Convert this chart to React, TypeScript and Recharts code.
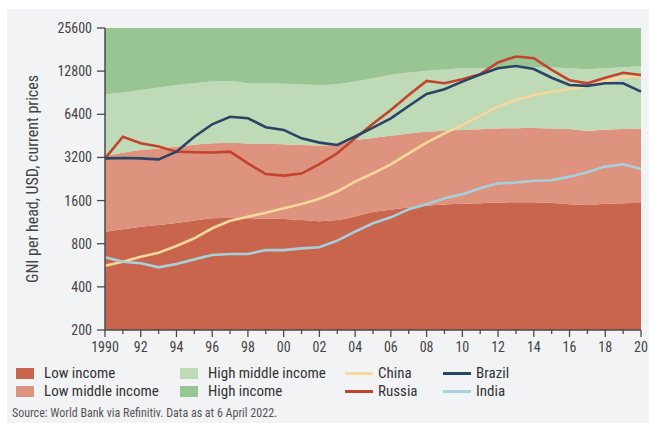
import { Area, ComposedChart, Line, XAxis, YAxis } from "recharts";

const years = [
	1990, 1991, 1992, 1993, 1994, 1995, 1996, 1997, 1998, 1999, 2000, 2001, 2002, 2003, 2004, 2005, 2006, 2007, 2008, 2009, 2010,
	2011, 2012, 2013, 2014, 2015, 2016, 2017, 2018, 2019, 2020,
];

// income band upper bounds (USD)
const lowIncomeTop = [
	970, 1010, 1050, 1080, 1115, 1160, 1205, 1210, 1205, 1195, 1190, 1170, 1150, 1170, 1240, 1330, 1380, 1430, 1470, 1500, 1520,
	1535, 1550, 1560, 1560, 1540, 1510, 1490, 1520, 1535, 1540,
];
const lowMiddleTop = [
	3290, 3450, 3600, 3700, 3800, 3920, 4020, 4030, 4010, 3980, 3950, 3900, 3870, 3950, 4230, 4380, 4530, 4700, 4840, 4920, 4980,
	5040, 5100, 5120, 5140, 5100, 5050, 4920, 5000, 5050, 5100,
];
const highMiddleTop = [
	8820, 9100, 9440, 9850, 10250, 10550, 10820, 10930, 10530, 10480, 10450, 10350, 10250, 10400, 10820, 11400, 12030, 12500, 12900,
	13150, 13400, 13450, 13500, 13600, 13700, 13550, 13400, 13200, 13400, 13600, 13900,
];
const highIncomeTop = 25600;
const axisFloor = 200;

const china = [
	562, 599, 650, 692, 771, 873, 1025, 1157, 1235, 1317, 1413, 1514, 1650, 1850, 2170, 2480, 2860, 3420, 4060, 4710, 5390, 6230,
	7240, 8060, 8720, 9200, 9560, 10100, 10930, 11600, 11860,
];
const brazil = [
	3150, 3170, 3150, 3100, 3510, 4460, 5450, 6150, 6000, 5200, 4980, 4350, 4060, 3910, 4480, 5170, 6000, 7310, 8870, 9560, 10820,
	12120, 13400, 13900, 13250, 11520, 10250, 10100, 10530, 10530, 9200,
];
const russia = [
	3150, 4460, 4020, 3810, 3510, 3480, 3460, 3510, 2910, 2450, 2390, 2470, 2870, 3420, 4350, 5490, 6860, 8720, 10930, 10530, 11220,
	12190, 14700, 16200, 15750, 13060, 11060, 10530, 11520, 12480, 12030,
];
const india = [
	643, 599, 584, 547, 578, 622, 668, 678, 678, 722, 722, 742, 755, 840, 971, 1110, 1222, 1390, 1510, 1660, 1770, 1950, 2110, 2140,
	2200, 2220, 2350, 2520, 2760, 2870, 2660,
];

const yTicks = [200, 400, 800, 1600, 3200, 6400, 12800, 25600];

const bands = [
	{ key: "low", name: "Low income", color: "#c8654c" },
	{ key: "lowMid", name: "Low middle income", color: "#dd937d" },
	{ key: "highMid", name: "High middle income", color: "#bfdab7" },
	{ key: "high", name: "High income", color: "#98c593" },
];
const countries = [
	{ key: "china", name: "China", color: "#f5d89a", values: china },
	{ key: "russia", name: "Russia", color: "#c2432e", values: russia },
	{ key: "brazil", name: "Brazil", color: "#2b4466", values: brazil },
	{ key: "india", name: "India", color: "#a8d0dc", values: india },
];

const data = years.map((year, i) => ({
	year,
	low: [axisFloor, lowIncomeTop[i]],
	lowMid: [lowIncomeTop[i], lowMiddleTop[i]],
	highMid: [lowMiddleTop[i], highMiddleTop[i]],
	high: [highMiddleTop[i], highIncomeTop],
	china: china[i],
	russia: russia[i],
	brazil: brazil[i],
	india: india[i],
}));

const FONT = "'Liberation Sans Narrow', 'Roboto Condensed', Roboto, sans-serif";
const TEXT = "#444";

function YearTick(props: any) {
	const { x, y, payload } = props;
	const year: number = payload.value;
	const major = year % 2 === 0;
	const label = year === 1990 ? "1990" : String(year % 100).padStart(2, "0");
	return (
		<g>
			<line x1={x} x2={x} y1={y} y2={y + (major ? 7 : 4)} stroke="#4a4a4a" strokeWidth={1.3} />
			{major && (
				<text x={x} y={y + 22} textAnchor="middle" fill={TEXT} fontSize={14} fontFamily={FONT}>
					{label}
				</text>
			)}
		</g>
	);
}

function LegendSwatch({ color, line }: { color: string; line?: boolean }) {
	return line ? (
		<span style={{ display: "inline-block", width: 28, height: 3, background: color, marginRight: 5 }} />
	) : (
		<span style={{ display: "inline-block", width: 18, height: 11, background: color, marginRight: 10 }} />
	);
}

export default function App() {
	const legendCols = [
		{ left: 16, items: [bands[0], bands[1]], line: false },
		{ left: 180, items: [bands[2], bands[3]], line: false },
		{ left: 345, items: [countries[0], countries[1]], line: true },
		{ left: 443, items: [countries[2], countries[3]], line: true },
	];
	return (
		<div style={{ position: "absolute", left: 0, top: 0, width: 649, height: 423, background: "#fff", fontFamily: FONT }}>
			<div style={{ position: "absolute", left: 7, top: 9, width: 642, height: 414, background: "#f2f3f5" }} />
			<div style={{ position: "absolute", left: 0, top: 0 }}>
				<ComposedChart width={649} height={423} data={data} margin={{ top: 28, right: 8, bottom: 63, left: 0 }}>
					<XAxis
						dataKey="year"
						type="number"
						domain={[1990, 2020]}
						ticks={years}
						interval={0}
						tick={<YearTick />}
						tickLine={false}
						tickSize={0}
						tickMargin={0}
						height={30}
						axisLine={{ stroke: "#4a4a4a", strokeWidth: 1.5 }}
					/>
					<YAxis
						scale="log"
						domain={[200, 25600]}
						ticks={yTicks}
						interval={0}
						allowDataOverflow
						width={105}
						tick={{ fill: TEXT, fontSize: 14, fontFamily: FONT }}
						tickLine={{ stroke: "#4a4a4a", strokeWidth: 1.3 }}
						tickSize={8}
						tickMargin={5}
						axisLine={{ stroke: "#4a4a4a", strokeWidth: 1.5 }}
						label={{
							content: () => (
								<text x={38} y={179} transform="rotate(-90 38 179)" textAnchor="middle" fill={TEXT} fontSize={16} fontFamily={FONT}>
									GNI per head, USD, current prices
								</text>
							),
						}}
					/>
					{bands.map((b) => (
						<Area
							key={b.key}
							dataKey={b.key}
							type="monotone"
							stroke="none"
							fill={b.color}
							fillOpacity={1}
							isAnimationActive={false}
						/>
					))}
					{countries.map((c) => (
						<Line
							key={c.key}
							dataKey={c.key}
							type="linear"
							stroke={c.color}
							strokeWidth={2.6}
							dot={false}
							isAnimationActive={false}
						/>
					))}
				</ComposedChart>
			</div>
			{legendCols.map((col, ci) =>
				col.items.map((it, ri) => (
					<div
						key={`${ci}-${ri}`}
						style={{
							position: "absolute",
							left: col.left,
							top: 364 + ri * 18,
							height: 18,
							display: "flex",
							alignItems: "center",
							fontSize: 15,
							color: "#333",
							whiteSpace: "nowrap",
						}}
					>
						<LegendSwatch color={it.color} line={col.line} />
						{it.name}
					</div>
				)),
			)}
			<div style={{ position: "absolute", left: 12, top: 406, fontSize: 12, color: "#555", whiteSpace: "nowrap" }}>
				Source: World Bank via Refinitiv. Data as at 6 April 2022.
			</div>
		</div>
	);
}
